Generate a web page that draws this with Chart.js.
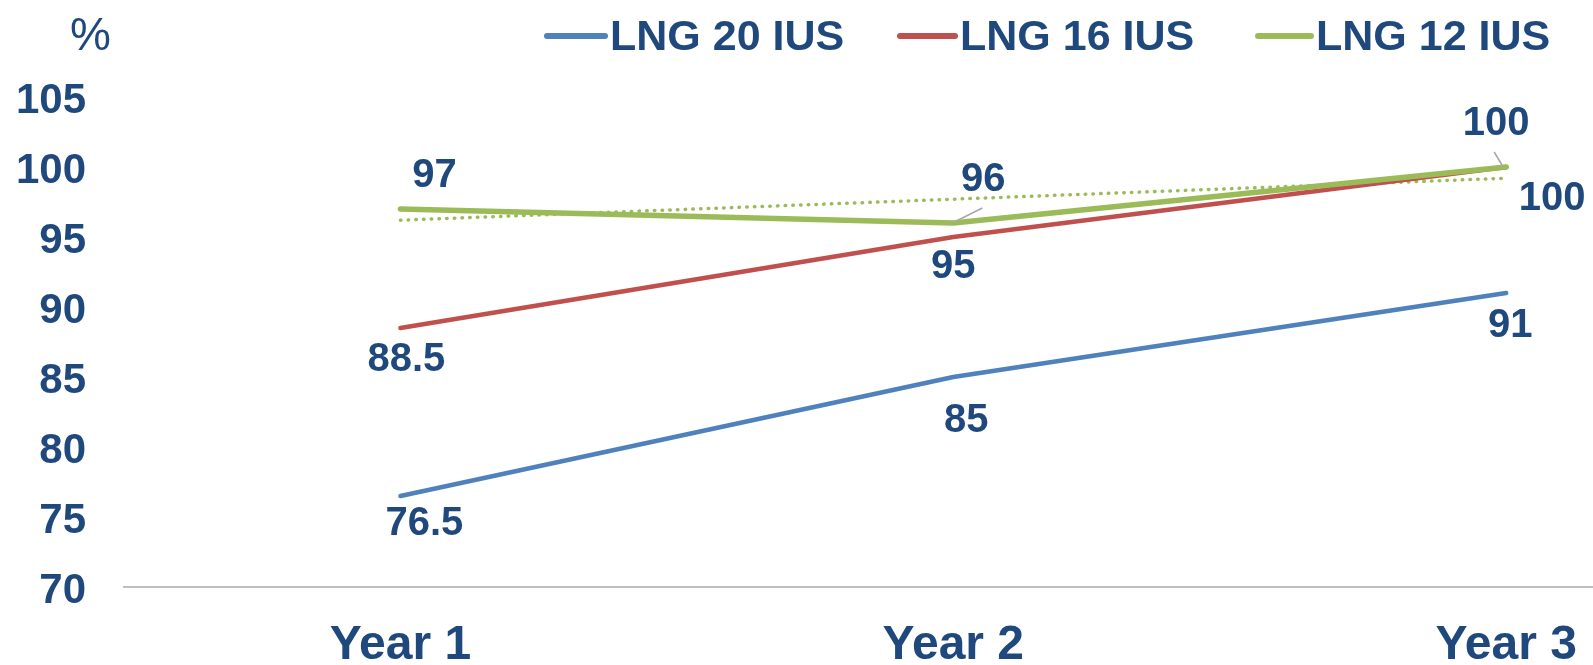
<!DOCTYPE html>
<html>
<head>
<meta charset="utf-8">
<script src="https://cdn.jsdelivr.net/npm/chart.js@4.4.1/dist/chart.umd.min.js"></script>
<style>
  html, body { margin: 0; padding: 0; background: #ffffff; }
  #wrap { width: 1593px; height: 665px; position: relative; }
</style>
</head>
<body>
<div id="wrap"><canvas id="chart" width="1593" height="665"></canvas></div>
<script>
// Categories and tick labels
const years = ['Year 1', 'Year 2', 'Year 3'];
const yTicks = [70, 75, 80, 85, 90, 95, 100, 105];

// Series values (%)
const lng20 = [76.5, 85, 91];
const lng16 = [88.5, 95, 100];
const lng12 = [97, 96, 100];

// Linear trend of LNG 12 IUS, end points at Year 1 and Year 3
const lng12Trend = [96.2, 99.2];

const seriesNames = ['LNG 20 IUS', 'LNG 16 IUS', 'LNG 12 IUS'];

const TEXT = '#1F497D';
const FONT = '"Liberation Sans", Arial, sans-serif';

// Value label placement relative to each point [dx, dy]
const labelOffsets = [
  [[24, 27], [13, 43], [4, 32]],
  [[6, 31], [0, 29], [46, 31]],
  [[34, -34], [30, -44], [-10, -44]]
];
// Leader lines for labels pulled away from their points [x1, y1, x2, y2]
const leaders = [
  [null, null, null],
  [null, null, null],
  [null, [1, -1, 29, -15], [-12, -15, -3, 0]]
];

const toXY = arr => arr.map((v, i) => ({ x: i, y: v }));

const valueLabels = {
  id: 'valueLabels',
  afterDatasetsDraw(chart) {
    const ctx = chart.ctx;
    ctx.save();
    for (let d = 0; d < 3; d++) {
      const meta = chart.getDatasetMeta(d);
      const vals = chart.data.datasets[d].data;
      meta.data.forEach((pt, i) => {
        const ld = leaders[d][i];
        if (ld) {
          ctx.strokeStyle = '#A6A6A6';
          ctx.lineWidth = 1.5;
          ctx.beginPath();
          ctx.moveTo(pt.x + ld[0], pt.y + ld[1]);
          ctx.lineTo(pt.x + ld[2], pt.y + ld[3]);
          ctx.stroke();
        }
        const off = labelOffsets[d][i];
        ctx.fillStyle = TEXT;
        ctx.font = 'bold 40px ' + FONT;
        ctx.textAlign = 'center';
        ctx.textBaseline = 'middle';
        ctx.fillText(String(vals[i].y), pt.x + off[0], pt.y + off[1] + 1);
      });
    }
    ctx.restore();
  }
};

// Value axis labels, right-aligned beside the plot
const yLabels = {
  id: 'yLabels',
  afterDraw(chart) {
    const ctx = chart.ctx;
    const ys = chart.scales.y;
    ctx.save();
    ctx.fillStyle = TEXT;
    ctx.font = 'bold 42px ' + FONT;
    ctx.textAlign = 'right';
    ctx.textBaseline = 'middle';
    yTicks.forEach(v => ctx.fillText(String(v), 86, ys.getPixelForValue(v) + 4));
    ctx.restore();
  }
};

const legendAndUnit = {
  id: 'legendAndUnit',
  afterDraw(chart) {
    const ctx = chart.ctx;
    ctx.save();
    // unit label
    ctx.fillStyle = TEXT;
    ctx.font = '46px ' + FONT;
    ctx.textAlign = 'left';
    ctx.textBaseline = 'alphabetic';
    ctx.fillText('%', 70, 50);
    // legend
    const items = [
      { x1: 547, x2: 605, tx: 610 },
      { x1: 900, x2: 955, tx: 960 },
      { x1: 1258, x2: 1311, tx: 1316 }
    ];
    items.forEach((it, i) => {
      const ds = chart.data.datasets[i];
      ctx.strokeStyle = ds.borderColor;
      ctx.lineWidth = 6;
      ctx.lineCap = 'round';
      ctx.beginPath();
      ctx.moveTo(it.x1, 36);
      ctx.lineTo(it.x2, 36);
      ctx.stroke();
      ctx.fillStyle = TEXT;
      ctx.font = 'bold 43px ' + FONT;
      ctx.fillText(ds.label, it.tx, 50);
    });
    ctx.restore();
  }
};

new Chart(document.getElementById('chart'), {
  type: 'line',
  data: {
    datasets: [
      { label: seriesNames[0], data: toXY(lng20), borderColor: '#4F81BD', borderWidth: 4.5, order: 2 },
      { label: seriesNames[1], data: toXY(lng16), borderColor: '#C0504D', borderWidth: 4.5, order: 1 },
      { label: seriesNames[2], data: toXY(lng12), borderColor: '#9BBB59', borderWidth: 5.5, order: 0 },
      { label: 'trend', data: [{ x: 0, y: lng12Trend[0] }, { x: 2, y: lng12Trend[1] }],
        borderColor: '#9BBB59', borderWidth: 3.5, borderDash: [0.5, 7.2], borderCapStyle: 'round', order: 3 }
    ]
  },
  options: {
    responsive: false,
    animation: false,
    events: [],
    layout: { padding: { top: 97, left: 0, right: 0, bottom: 0 } },
    elements: {
      point: { radius: 0, hoverRadius: 0 },
      line: { tension: 0, fill: false, borderCapStyle: 'round', borderJoinStyle: 'round' }
    },
    plugins: { legend: { display: false }, tooltip: { enabled: false } },
    scales: {
      x: {
        type: 'linear',
        position: 'bottom',
        min: -0.5,
        max: 2.157,
        afterBuildTicks: s => { s.ticks = years.map((_, i) => ({ value: i })); },
        afterFit: s => { s.height = 78; s.paddingLeft = 0; s.paddingRight = 0; },
        grid: { display: false },
        border: { display: true, color: '#BFBFBF', width: 2 },
        ticks: {
          padding: 22,
          maxRotation: 0,
          autoSkip: false,
          color: TEXT,
          font: { family: FONT, size: 48, weight: 'bold' },
          callback: v => years[v]
        }
      },
      y: {
        min: 70,
        max: 105,
        afterBuildTicks: s => { s.ticks = yTicks.map(v => ({ value: v })); },
        afterFit: s => { s.width = 124; s.paddingTop = 0; s.paddingBottom = 0; },
        grid: { display: false },
        border: { display: false },
        ticks: { display: false }
      }
    }
  },
  plugins: [valueLabels, yLabels, legendAndUnit]
});
</script>
</body>
</html>
